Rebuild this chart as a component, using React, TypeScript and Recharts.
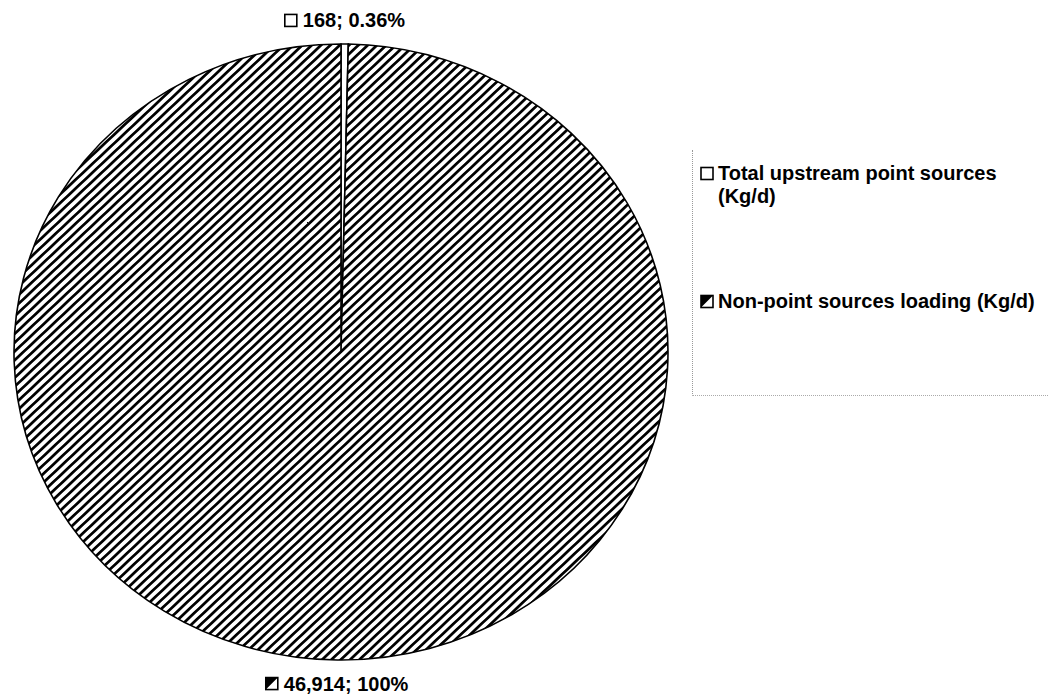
import { Cell, Legend, Pie, PieChart } from 'recharts';

// Daily loads by source type
const sourceNames = ['Total upstream point sources (Kg/d)', 'Non-point sources loading (Kg/d)'];
const sourceLoads = [168, 46914];
const sourceFills = ['#ffffff', 'url(#hatch)'];

const CHART_W = 1053;
const CHART_H = 698;
const CENTER_X = 341;
const CENTER_Y = 352;
const RADIUS = 327;
// the pie is drawn slightly flattened
const Y_SCALE = 0.942;
const RADIAN = Math.PI / 180;

const FONT = '"Liberation Sans", Arial, Helvetica, sans-serif';
const FONT_SIZE = 20;

const pieData = sourceNames.map((name, i) => ({ name, value: sourceLoads[i] }));

// rough bold-Arial advance widths, in em
function textWidth(text: string): number {
  let w = 0;
  for (const ch of text) {
    if (/[0-9]/.test(ch)) w += 0.556;
    else if (ch === '%') w += 0.889;
    else if (ch === ';') w += 0.333;
    else w += 0.278;
  }
  return w * FONT_SIZE;
}

function formatPercent(p: number): string {
  const pct = p * 100;
  return pct < 1 ? `${pct.toFixed(2)}%` : `${pct.toFixed(0)}%`;
}

function Swatch({ index, x, y, size = 12 }: { index: number; x: number; y: number; size?: number }) {
  return (
    <g>
      <rect x={x} y={y} width={size} height={size} fill="#fff" stroke="#000" strokeWidth={1.6} />
      {index === 1 && (
        <polygon points={`${x},${y} ${x + size},${y} ${x},${y + size}`} fill="#000" />
      )}
    </g>
  );
}

function renderSliceLabel(props: any) {
  const { cx, cy, midAngle, outerRadius, index, value, percent } = props;
  const r = outerRadius + 25;
  const x = cx + r * Math.cos(-midAngle * RADIAN);
  const y = cy + r * Math.sin(-midAngle * RADIAN);
  const text = `${Number(value).toLocaleString('en-US')}; ${formatPercent(percent)}`;
  const total = textWidth(text) + 18;
  const left = x - total / 2;
  return (
    <g transform={`translate(${x},${y}) scale(1,${1 / Y_SCALE}) translate(${-x},${-y})`}>
      <Swatch index={index} x={left} y={y - 6} />
      <text
        x={left + 18}
        y={y}
        dominantBaseline="central"
        fontFamily={FONT}
        fontWeight="bold"
        fontSize={FONT_SIZE}
        fill="#000"
      >
        {text}
      </text>
    </g>
  );
}

function renderLegend() {
  return (
    <div
      style={{
        width: 356,
        height: 246,
        borderLeft: '1px dotted #999',
        borderBottom: '1px dotted #aaa',
        boxSizing: 'border-box',
        fontFamily: FONT,
        fontWeight: 'bold',
        fontSize: FONT_SIZE,
        lineHeight: '23px',
        color: '#000',
        paddingTop: 12,
      }}
    >
      {sourceNames.map((name, i) => (
        <div key={name} style={{ display: 'flex', marginTop: i === 0 ? 0 : 82, paddingLeft: 7 }}>
          <svg width={16} height={23} style={{ flex: 'none' }}>
            <Swatch index={i} x={1} y={5.5} />
          </svg>
          <span style={{ width: 330, paddingLeft: 2 }}>{name}</span>
        </div>
      ))}
    </div>
  );
}

export default function App() {
  return (
    <div className="ellipse-pie" style={{ position: 'absolute', left: 0, top: 0, background: '#fff' }}>
      <style>
        {`.ellipse-pie .recharts-surface{transform:scaleY(${Y_SCALE});transform-origin:0 ${CENTER_Y}px;overflow:visible}`}
      </style>
      <PieChart width={CHART_W} height={CHART_H} margin={{ top: 0, right: 0, bottom: 0, left: 0 }}>
        <defs>
          <pattern
            id="hatch"
            patternUnits="userSpaceOnUse"
            width={6.6}
            height={6.6}
            patternTransform="rotate(45)"
          >
            <rect width={6.6} height={6.6} fill="#fff" />
            <rect width={2.8} height={6.6} fill="#000" />
          </pattern>
        </defs>
        <Pie
          data={pieData}
          dataKey="value"
          nameKey="name"
          cx={CENTER_X}
          cy={CENTER_Y}
          outerRadius={RADIUS}
          startAngle={90}
          endAngle={-270}
          label={renderSliceLabel}
          labelLine={false}
          isAnimationActive={false}
        >
          {pieData.map((entry, i) => (
            <Cell key={entry.name} fill={sourceFills[i]} stroke="#000" strokeWidth={1.6} />
          ))}
        </Pie>
        <Legend
          layout="vertical"
          align="right"
          verticalAlign="top"
          content={renderLegend}
          wrapperStyle={{ position: 'absolute', left: 692, top: 150, width: 356, height: 246 }}
        />
      </PieChart>
    </div>
  );
}
